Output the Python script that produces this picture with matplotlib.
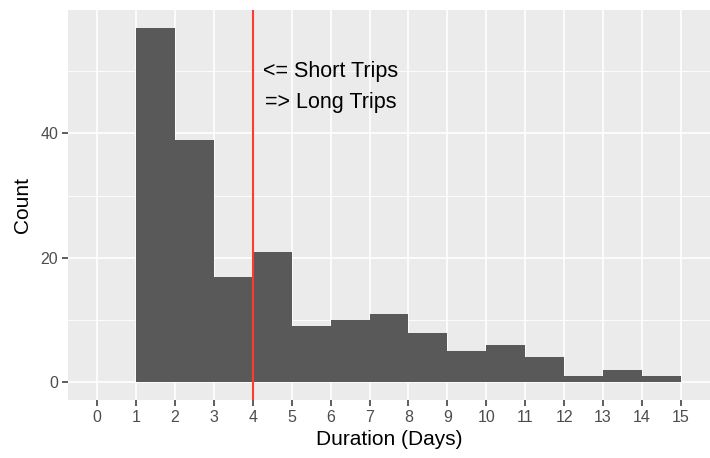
import numpy as np
import matplotlib.pyplot as plt

# ======================================================
# DATA
# ======================================================
bin_left = [1, 2, 3, 4, 5, 6, 7, 8, 9, 10, 11, 12, 13, 14]
counts = [57, 39, 17, 21, 9, 10, 11, 8, 5, 6, 4, 1, 2, 1]
x_breaks = list(range(0, 16))
y_breaks = [0, 20, 40]
y_minor = [10, 30, 50]
cutoff = 4

plt.rcParams["font.family"] = ["Liberation Sans", "DejaVu Sans"]

fig = plt.figure(figsize=(7.1, 4.58), dpi=100)
ax = fig.add_axes([68 / 710, 58 / 458, 642 / 710, 390 / 458])

ax.set_facecolor("#EBEBEB")
for s in ax.spines.values():
    s.set_visible(False)

# grid
for y in y_minor:
    ax.axhline(y, color="white", linewidth=0.6, zorder=0)
for y in y_breaks:
    ax.axhline(y, color="white", linewidth=1.2, zorder=0)
for x in x_breaks:
    ax.axvline(x, color="white", linewidth=1.2, zorder=0)

# histogram bars
ax.bar(bin_left, counts, width=1, align="edge", color="#595959", zorder=2)

# cutoff line
ax.axvline(cutoff, color="#FF3B2F", linewidth=1.5, zorder=3)

ax.text(6, 50, "<= Short Trips", ha="center", va="center", fontsize=15.5, zorder=4)
ax.text(6, 45, "=> Long Trips", ha="center", va="center", fontsize=15.5, zorder=4)

ax.set_xlim(-0.75, 15.75)
ax.set_ylim(-2.85, 59.85)
ax.set_xticks(x_breaks)
ax.set_yticks(y_breaks)
ax.tick_params(axis="both", colors="#333333", length=4, width=1.1,
               labelsize=11.5, labelcolor="#4D4D4D", pad=3)

ax.set_xlabel("Duration (Days)", fontsize=15, labelpad=4)
ax.set_ylabel("Count", fontsize=15, labelpad=6)

fig.savefig("out.png", dpi=100)
